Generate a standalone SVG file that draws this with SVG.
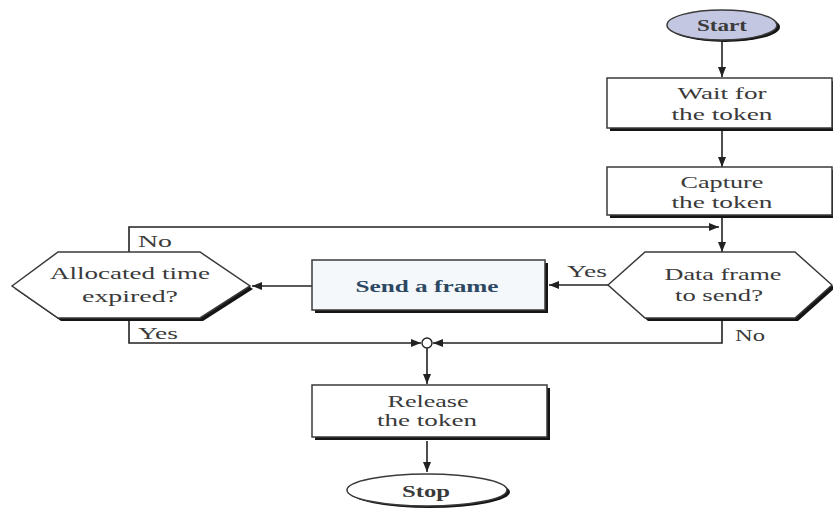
<svg xmlns="http://www.w3.org/2000/svg" width="833" height="510" viewBox="0 0 833 510">
  <style>
    .bg { fill: #ffffff; }
    .box { fill: #ffffff; stroke: #3a3a3a; stroke-width: 1.5; }
    .shadow { fill: #151515; }
    .lbl { font-family: "Liberation Serif", "Times New Roman", serif; font-size: 17px; fill: #3a3a3a; text-anchor: middle; }
    .bold { font-weight: bold; }
    .edge { fill: none; stroke: #222222; stroke-width: 1.6; }
    .send { fill: #f4f8fa; }
    .sendtxt { fill: #2d4862; }
  </style>
  <defs>
    <marker id="arrow" viewBox="0 0 10 8" refX="10" refY="4" markerWidth="10" markerHeight="8" markerUnits="userSpaceOnUse" orient="auto">
      <path d="M0,0 L10,4 L0,8 Z" fill="#222222"/>
    </marker>
  </defs>

  <rect class="bg" width="833" height="510"/>

  <!-- connectors -->
  <g id="connectors">
    <line class="edge" x1="722" y1="41" x2="722" y2="77" marker-end="url(#arrow)"/>
    <line class="edge" x1="722" y1="131" x2="722" y2="167" marker-end="url(#arrow)"/>
    <line class="edge" x1="722" y1="218" x2="722" y2="252" marker-end="url(#arrow)"/>
    <polyline class="edge" points="129,252 129,227 719,227" marker-end="url(#arrow)"/>
    <line class="edge" x1="608" y1="285" x2="549" y2="285" marker-end="url(#arrow)"/>
    <line class="edge" x1="312" y1="286" x2="252" y2="286" marker-end="url(#arrow)"/>
    <polyline class="edge" points="129,320 129,343 421,343" marker-end="url(#arrow)"/>
    <polyline class="edge" points="722,320 722,343 433,343" marker-end="url(#arrow)"/>
    <circle cx="427" cy="343" r="5" fill="#ffffff" stroke="#222222" stroke-width="1.4"/>
    <line class="edge" x1="427" y1="348" x2="427" y2="384" marker-end="url(#arrow)"/>
    <line class="edge" x1="427" y1="441" x2="427" y2="472" marker-end="url(#arrow)"/>
    <text class="lbl" x="155" y="247" textLength="34" lengthAdjust="spacingAndGlyphs">No</text>
    <text class="lbl" x="158" y="339" textLength="40" lengthAdjust="spacingAndGlyphs">Yes</text>
    <text class="lbl" x="587" y="277" textLength="40" lengthAdjust="spacingAndGlyphs">Yes</text>
    <text class="lbl" x="750" y="341" textLength="30" lengthAdjust="spacingAndGlyphs">No</text>
  </g>

  <!-- Start -->
  <g id="start">
    <ellipse cx="725" cy="27" rx="55" ry="15" class="shadow"/>
    <ellipse cx="722" cy="25" rx="55" ry="15" fill="#c4c7e1" stroke="#3a3a3a" stroke-width="1.5"/>
    <text class="lbl bold" x="722" y="31" textLength="50" lengthAdjust="spacingAndGlyphs" fill="#2e3350">Start</text>
  </g>

  <!-- Wait for the token -->
  <g id="wait">
    <rect x="610" y="81" width="225" height="50" class="shadow"/>
    <rect x="607" y="78" width="225" height="50" class="box"/>
    <text class="lbl" x="722" y="99" textLength="89" lengthAdjust="spacingAndGlyphs">Wait for</text>
    <text class="lbl" x="722" y="120" textLength="101" lengthAdjust="spacingAndGlyphs">the token</text>
  </g>

  <!-- Capture the token -->
  <g id="capture">
    <rect x="610" y="170" width="225" height="48" class="shadow"/>
    <rect x="607" y="167" width="225" height="48" class="box"/>
    <text class="lbl" x="722" y="188" textLength="83" lengthAdjust="spacingAndGlyphs">Capture</text>
    <text class="lbl" x="722" y="208" textLength="101" lengthAdjust="spacingAndGlyphs">the token</text>
  </g>

  <!-- Data frame to send? -->
  <g id="dataframe">
    <polygon points="611,288 648,255 798,255 835,288 798,321 648,321" class="shadow"/>
    <polygon points="608,285 645,252 795,252 832,285 795,318 645,318" class="box"/>
    <text class="lbl" x="723" y="280" textLength="117" lengthAdjust="spacingAndGlyphs">Data frame</text>
    <text class="lbl" x="719" y="301" textLength="88" lengthAdjust="spacingAndGlyphs">to send?</text>
  </g>

  <!-- Send a frame -->
  <g id="sendframe">
    <rect x="315" y="263" width="233" height="50" class="shadow"/>
    <rect x="312" y="260" width="233" height="50" class="box send"/>
    <text class="lbl bold sendtxt" x="427" y="292" textLength="143" lengthAdjust="spacingAndGlyphs">Send a frame</text>
  </g>

  <!-- Allocated time expired? -->
  <g id="allocated">
    <polygon points="15,289 61,255 203,255 253,289 203,321 61,321" class="shadow"/>
    <polygon points="12,286 58,252 200,252 250,286 200,318 58,318" class="box"/>
    <text class="lbl" x="130" y="279" textLength="160" lengthAdjust="spacingAndGlyphs">Allocated time</text>
    <text class="lbl" x="130" y="302" textLength="96" lengthAdjust="spacingAndGlyphs">expired?</text>
  </g>

  <!-- Release the token -->
  <g id="release">
    <rect x="315" y="388" width="235" height="52" class="shadow"/>
    <rect x="312" y="385" width="235" height="52" class="box"/>
    <text class="lbl" x="428" y="407" textLength="81" lengthAdjust="spacingAndGlyphs">Release</text>
    <text class="lbl" x="427" y="426" textLength="100" lengthAdjust="spacingAndGlyphs">the token</text>
  </g>

  <!-- Stop -->
  <g id="stop">
    <ellipse cx="430" cy="492" rx="80" ry="16" class="shadow"/>
    <ellipse cx="427" cy="490" rx="80" ry="16" fill="#ffffff" stroke="#3a3a3a" stroke-width="1.5"/>
    <text class="lbl bold" x="426" y="497" textLength="48" lengthAdjust="spacingAndGlyphs" fill="#2a2a2a">Stop</text>
  </g>
</svg>
